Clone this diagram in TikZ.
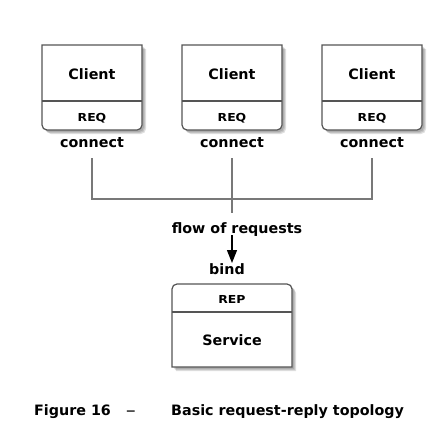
\documentclass[tikz,border=0pt]{standalone}
\usepackage{fontspec}
\setmainfont{DejaVu Sans}
\usetikzlibrary{arrows.meta}
\definecolor{boxline}{RGB}{85,85,85}
\definecolor{wireline}{RGB}{120,120,120}
\tikzset{
  lbl/.style={font=\bfseries\fontsize{14.3}{16}\selectfont, anchor=base, inner sep=0pt},
  sock/.style={font=\bfseries\fontsize{11}{13}\selectfont, anchor=base, inner sep=0pt},
  outline/.style={draw=boxline, line width=1.2pt, fill=white},
  divider/.style={draw=boxline, line width=1.2pt},
  wire/.style={draw=wireline, line width=1.2pt},
  flowarrow/.style={draw=black, line width=1.2pt, -{Triangle[width=10pt,length=13pt]}},
  shadowpath/.style={fill=black, opacity=0.12},
}
\newcommand{\wideq}[1]{\scalebox{1.13}[1]{#1}}
\begin{document}
\begin{tikzpicture}[x=1pt,y=-1pt]
\useasboundingbox (0,0) rectangle (444,442);
\fill[white] (0,0) rectangle (444,442);
% client boxes
\foreach \i/\x in {1/42,2/182,3/322}{
  \foreach \d in {1,2,3}{
    \fill[shadowpath] (\x+\d+1,45+\d+1) -- (\x+100+\d+1,45+\d+1) [rounded corners=5pt] -- (\x+100+\d+1,130+\d+1) -- (\x+\d+1,130+\d+1) [sharp corners] -- cycle;
  }
  \path[outline] (\x,45) -- (\x+100,45) [rounded corners=5pt] -- (\x+100,130) -- (\x,130) [sharp corners] -- cycle;
  \draw[divider] (\x,101) -- (\x+100,101);
  \node[lbl] (client\i) at (\x+50,79) {Client};
  \node[sock] (req\i) at (\x+50,121) {\wideq{REQ}};
  \node[lbl] (connect\i) at (\x+50,147) {connect};
  \coordinate (top\i) at (\x+50,158);
  \coordinate (bot\i) at (\x+50,199);
}
% service box
\foreach \d in {1,2,3}{
  \fill[shadowpath] (172+\d+1,367+\d+1) [rounded corners=5pt] -- (172+\d+1,284+\d+1) -- (292+\d+1,284+\d+1) [sharp corners] -- (292+\d+1,367+\d+1) -- cycle;
}
\path[outline] (172,367) [rounded corners=5pt] -- (172,284) -- (292,284) [sharp corners] -- (292,367) -- cycle;
\draw[divider] (172,312) -- (292,312);
\node[sock] (rep) at (232,303) {\wideq{REP}};
\node[lbl] (service) at (232,345) {Service};
\node[lbl] (bind) at (227,274) {bind};
\node[lbl] (flow) at (237,233) {flow of requests};
% connectors
\draw[wire] (top1) -- (bot1) -- (bot3) -- (top3);
\coordinate (midend) at (232,213);
\draw[wire] (top2) -- (midend);
\coordinate (arrstart) at (232,235);
\coordinate (arrend) at (232,263);
\draw[flowarrow] (arrstart) -- (arrend);
% caption
\node[lbl, anchor=base west] (fig) at (34,415) {Figure 16};
\node[lbl, anchor=base] (dash) at (131,415) {\textcolor{black!70}{\scalebox{1.4}[1]{–}}};
\node[lbl, anchor=base west] (title) at (171,415) {Basic request-reply topology};
\end{tikzpicture}
\end{document}
